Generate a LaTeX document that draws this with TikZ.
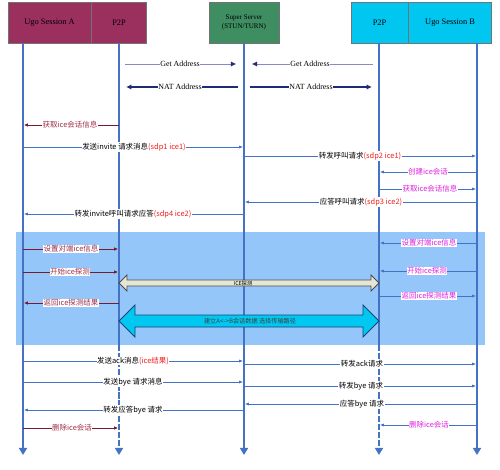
\documentclass[tikz,border=0pt]{standalone}
\usepackage{fontspec}
\setmainfont{Liberation Serif}
\newfontfamily\cjk{Noto Sans CJK SC}
\usetikzlibrary{arrows.meta, positioning, calc}
\definecolor{ugoA}{HTML}{9B2F5E}
\definecolor{stun}{HTML}{3E8E62}
\definecolor{ugoB}{HTML}{00C6F0}
\definecolor{life}{HTML}{4472C4}
\definecolor{navy}{HTML}{1F2A78}
\definecolor{getln}{HTML}{8A8AC8}
\definecolor{darkred}{HTML}{7A1A30}
\definecolor{rosetxt}{HTML}{A0304A}
\definecolor{pinktxt}{HTML}{E020E0}
\definecolor{iceband}{HTML}{95C6FA}
\definecolor{sdpred}{HTML}{F02020}
\definecolor{probefill}{HTML}{E6E6D4}
\definecolor{datafill}{HTML}{00C8F0}

\begin{document}
\begin{tikzpicture}[
    x=0.04cm, y=-0.04cm,
    every node/.style={font=\fontsize{8.5}{10}\selectfont\cjk},
    head/.style={rectangle, draw=black!55, line width=0.6pt, minimum height=1.64cm,
        inner sep=1pt, text=black, font=\fontsize{9.5}{11}\selectfont},
    lane/.style={draw=life, line width=2.2pt, -{Triangle[length=8pt, width=9pt]}},
    msg/.style={draw=life, line width=0.8pt, shorten >=1pt, -{Latex[length=4.5pt, width=3.5pt]}},
    redmsg/.style={draw=darkred, line width=0.9pt, shorten >=1pt, -{Latex[length=4.5pt, width=4pt]}},
    getmsg/.style={draw=getln, line width=0.8pt, shorten <=6.8pt, shorten >=9pt, -{Latex[length=6pt, width=6pt, color=navy]}},
    natmsg/.style={draw=navy, line width=1.6pt, shorten <=6.8pt, shorten >=8pt, -{Latex[length=6pt, width=6pt]}},
    lbl/.style={fill=white, inner sep=0.6pt},
    getlbl/.style={fill=white, inner sep=0.6pt, font=\fontsize{9}{10}\selectfont},
    bar/.style={line width=0.9pt, line join=miter}
]
    % header boxes
    \node[head, fill=ugoA, minimum width=3.32cm] (ua) at (49.5,22.5) {Ugo Session A};
    \node[head, fill=ugoA, minimum width=2.2cm, right=0pt of ua] (pa) {P2P};
    \node[head, fill=stun, minimum width=2.8cm, align=center, font=\fontsize{8}{9.5}\selectfont] (ss) at (244,22.5) {Super Server\\(STUN/TURN)};
    \node[head, fill=ugoB, minimum width=2.28cm] (pb) at (379.5,22.5) {P2P};
    \node[head, fill=ugoB, minimum width=3.32cm, right=0pt of pb] (ub) {Ugo Session B};

    \coordinate (la)  at (23,43);
    \coordinate (lpa) at (119,43);
    \coordinate (ls)  at (244,43);
    \coordinate (lpb) at (379,43);
    \coordinate (lb)  at (477,43);
    \coordinate (bot) at (0,455);

    % ice probing band
    \coordinate (bandtop) at (16,232);
    \coordinate (bandbot) at (485,345);
    \fill[iceband] (bandtop) rectangle (bandbot);

    % lifelines
    \draw[lane] (la) -- (la |- bot);
    \draw[lane] (ls) -- (ls |- bot);
    \draw[lane] (lb) -- (lb |- bot);
    \draw[draw=life, line width=2.2pt] (lpa) -- (lpa |- bandbot);
    \draw[draw=life, line width=2.2pt] (lpb) -- (lpb |- bandbot);
    \draw[lane, dash pattern=on 7pt off 2pt] (lpa |- bandbot) -- (lpa |- bot);
    \draw[lane, dash pattern=on 7pt off 2pt] (lpb |- bandbot) -- (lpb |- bot);

    % address discovery
    \coordinate (g1) at (180,64);  \coordinate (g2) at (310,64);
    \coordinate (n1) at (180,87);  \coordinate (n2) at (311,87);
    \draw[getmsg] (lpa |- g1) -- (ls |- g1);
    \draw[getmsg] (lpb |- g2) -- (ls |- g2);
    \draw[natmsg] (ls |- n1) -- (lpa |- n1);
    \draw[natmsg] (ls |- n2) -- (lpb |- n2);
    \node[getlbl] (tg1) at (g1) {Get Address};
    \node[getlbl] (tg2) at (g2) {Get Address};
    \node[getlbl] (tn1) at (n1) {NAT Address};
    \node[getlbl] (tn2) at (n2) {NAT Address};

    % signalling
    \foreach \y/\x/\a/\b/\t in {
        147/134/la/ls/{发送invite 请求消息\textcolor{sdpred}{(sdp1 ice1)}},
        156/360/ls/lb/{转发呼叫请求\textcolor{sdpred}{(sdp2 ice1)}},
        202/361/lb/ls/{应答呼叫请求\textcolor{sdpred}{(sdp3 ice2)}},
        214/133/ls/la/{转发invite呼叫请求应答\textcolor{sdpred}{(sdp4 ice2)}},
        361/133/la/ls/{发送ack消息\textcolor{sdpred}{(ice结果)}},
        364/362/ls/lb/{转发ack请求},
        382/133/la/ls/{发送bye 请求消息},
        386/361/ls/lb/{转发bye 请求},
        404/362/lb/ls/{应答bye 请求},
        410/133/ls/la/{转发应答bye 请求}}{
        \coordinate (r\y) at (\x,\y);
        \draw[msg] (\a |- r\y) -- (\b |- r\y);
        \node[lbl] (m\y) at (r\y) {\t};
    }

    % ice session, side A
    \foreach \y/\x/\a/\b/\t in {
        125/70/lpa/la/{获取ice会话信息},
        249/71/la/lpa/{设置对端ice信息},
        272/70/la/lpa/{开始ice探测},
        303/71/lpa/la/{返回ice探测结果},
        428/72/la/lpa/{删除ice会话}}{
        \coordinate (r\y) at (\x,\y);
        \draw[redmsg] (\a |- r\y) -- (\b |- r\y);
        \node[lbl, text=rosetxt] (m\y) at (r\y) {\t};
    }

    % ice session, side B
    \foreach \y/\x/\a/\b/\t in {
        172/428/lb/lpb/{创建ice会话},
        189/430/lpb/lb/{获取ice会话信息},
        243/429/lb/lpb/{设置对端ice信息},
        271/427/lb/lpb/{开始ice探测},
        296/429/lpb/lb/{返回ice探测结果},
        425/429/lb/lpb/{删除ice会话}}{
        \coordinate (r\y) at (\x,\y);
        \draw[msg] (\a |- r\y) -- (\b |- r\y);
        \node[lbl, text=pinktxt] (m\y) at (r\y) {\t};
    }

    % probing and data
    \coordinate (probe) at (243,283);
    \coordinate (data) at (250,321);
    \draw[bar, draw=black!70, fill=probefill] (lpa |- probe) -- ++(8,-8) -- ++(0,5)
        -- ($(lpb |- probe)+(-8,-3)$) -- ++(0,-5) -- (lpb |- probe) -- ++(-8,8) -- ++(0,-5)
        -- ($(lpa |- probe)+(8,3)$) -- ++(0,5) -- cycle;
    \node[font=\fontsize{6}{7}\selectfont\cjk, inner sep=0pt] (tprobe) at (probe) {ICE探测};
    \draw[bar, draw=navy!70!teal, fill=datafill] (lpa |- data) -- ++(16,-16) -- ++(0,10)
        -- ($(lpb |- data)+(-16,-6)$) -- ++(0,-10) -- (lpb |- data) -- ++(-16,16) -- ++(0,-10)
        -- ($(lpa |- data)+(16,6)$) -- ++(0,10) -- cycle;
    \node[font=\fontsize{7}{8}\selectfont\cjk, inner sep=0pt, text=black!75] (tdata) at (data) {建立A<->B会话数据 选择传输路径};

    \useasboundingbox (0,0) rectangle (500,470);
\end{tikzpicture}
\end{document}
